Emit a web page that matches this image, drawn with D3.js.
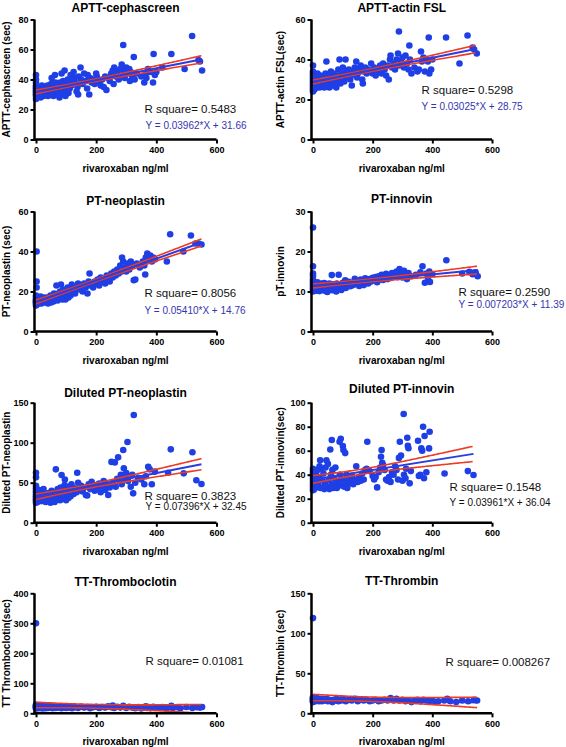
<!DOCTYPE html>
<html><head><meta charset="utf-8">
<script src="https://cdn.jsdelivr.net/npm/d3@7"></script>
<style>body{margin:0;background:#fff}svg{display:block}</style>
</head><body>
<script>
// ---------- DATA ----------
const titles = ["APTT-cephascreen","APTT-actin FSL","PT-neoplastin","PT-innovin","Diluted PT-neoplastin","Diluted PT-innovin","TT-Thromboclotin","TT-Thrombin"];
const yTitles = ["APTT-cephascreen (sec)","APTT-actin FSL(sec)","PT-neoplastin (sec)","pT-innovin","Diluted PT-neoplastin","Diluted PT-innovin(sec)","TT Thromboclotin(sec)","TT-Thrombin (sec)"];
const xTitle = "rivaroxaban ng/ml";
const xTicks = [0,200,400,600];
const yTicks = [[0,20,40,60,80],[0,20,40,60],[0,20,40,60],[0,10,20,30],[0,50,100,150],[0,20,40,60,80,100],[0,100,200,300,400],[0,50,100,150]];
const rSquare = ["0.5483","0.5298","0.8056","0.2590","0.3823","0.1548","0.01081","0.008267"];
const equations = ["Y = 0.03962*X + 31.66","Y = 0.03025*X + 28.75","Y = 0.05410*X + 14.76","Y = 0.007203*X + 11.39","Y = 0.07396*X + 32.45","Y = 0.03961*X + 36.04",null,null];
const slopes = [0.03962,0.03025,0.05410,0.007203,0.07396,0.03961,null,null];
const intercepts = [31.66,28.75,14.76,11.39,32.45,36.04,null,null];

const pts1 = [[0,27],[0,29],[0,30],[0,31],[0,32],[0,33],[0,34],[0,35],[0,36],[0,38],[0,40],[0,43],[2,28],[3,31],[5,30],[5,33],[8,29],[8,35],[10,32],[12,30],[12,34],[15,31],[15,28],[18,33],[20,30],[20,36],[25,32],[25,29],[28,34],[30,31],[32,30],[35,33],[38,36],[40,29],[42,32],[45,34],[48,31],[50,30],[50,37],[52,41],[55,33],[58,29],[60,35],[62,31],[63,43],[65,38],[68,30],[70,34],[72,32],[75,36],[78,28],[80,38],[82,33],[85,35],[85,44],[88,30],[90,39],[92,36],[95,46],[96,33],[98,29],[100,38],[102,35],[105,40],[108,31],[110,37],[112,34],[115,43],[118,36],[120,39],[125,45],[128,41],[130,38],[135,32],[138,35],[140,30],[142,42],[148,48],[150,40],[155,37],[160,44],[165,39],[170,34],[172,43],[177,30],[180,41],[185,38],[190,40],[195,37],[200,44],[202,42],[210,38],[215,36],[220,40],[225,35],[230,42],[234,33],[240,41],[245,39],[250,44],[255,46],[258,37],[260,48],[265,42],[270,45],[275,40],[280,47],[285,50],[288,43],[290,63],[292,46],[295,41],[300,48],[305,44],[310,47],[312,39],[315,45],[320,42],[325,55],[328,40],[335,44],[350,42],[360,38],[365,44],[367,41],[372,47],[380,45],[389,38],[391,57],[395,43],[400,45],[420,48],[450,57],[494,47],[519,69],[540,53],[545,52],[552,46]];
const pts2 = [[0,24],[0,25],[0,26],[0,27],[0,28],[0,29],[0,30],[0,31],[0,32],[0,33],[0,34],[0,37],[2,26],[3,28],[5,30],[5,25],[8,27],[8,32],[10,29],[12,26],[12,31],[15,28],[15,33],[18,27],[20,30],[22,26],[25,29],[25,32],[28,27],[30,31],[32,28],[35,30],[38,26],[40,29],[42,33],[45,39],[45,27],[48,30],[50,28],[52,32],[55,26],[58,30],[60,34],[62,29],[65,27],[68,31],[70,33],[72,28],[75,30],[78,26],[80,32],[82,29],[85,35],[88,31],[89,40],[92,28],[95,33],[98,30],[100,36],[102,32],[105,29],[109,40],[110,34],[112,31],[115,33],[120,35],[125,30],[128,32],[130,27],[135,34],[140,36],[145,39],[148,31],[150,33],[155,35],[160,37],[165,30],[167,28],[170,34],[175,36],[180,33],[185,35],[190,34],[195,38],[200,33],[205,36],[210,32],[215,35],[220,34],[225,37],[230,33],[235,38],[240,35],[245,32],[250,37],[254,30],[258,40],[260,42],[265,36],[270,38],[275,35],[280,40],[285,43],[288,54],[290,37],[295,39],[300,41],[305,36],[310,42],[315,38],[320,35],[323,47],[325,40],[330,33],[340,36],[350,34],[355,35],[362,44],[365,39],[370,41],[375,34],[380,40],[385,39],[388,51],[390,33],[396,35],[400,40],[446,51],[491,38],[518,52],[535,46],[540,45],[549,43]];
const pts3 = [[0,13],[0,14],[0,15],[0,16],[0,17],[0,18],[0,14.5],[0,15.5],[2,40],[2,25],[2,22],[3,13.5],[5,16],[5,14],[8,15],[8,17],[10,14],[12,16],[15,15],[15,17.5],[18,14],[20,16],[22,15],[25,17],[28,14.5],[30,16],[32,15],[35,17],[38,15],[40,14],[42,16.5],[45,15],[48,18],[50,14.5],[52,16],[55,17],[58,15],[60,19],[62,16],[65,18],[68,23],[70,17],[72,15.5],[75,19],[78,17],[80,20],[83,23.5],[85,18],[88,16],[90,21],[92,17],[95,19],[98,16],[100,20],[102,18],[105,22],[108,17],[110,19],[112,21],[115,18],[119,23.5],[120,20],[125,21],[130,19],[135,22],[140,24],[145,21],[150,23],[155,20],[160,24],[165,22],[171,19],[175,25],[178,29],[180,23],[185,24],[190,22],[195,25],[200,24],[205,26],[210,23],[215,27],[220,25],[225,26],[230,24],[235,28],[240,27],[245,25],[250,29],[255,27],[260,30],[265,28],[270,31],[275,29],[280,33],[285,30],[286,37],[290,35],[295,32],[300,30],[305,34],[310,31],[315,35],[320,33],[325,25.6],[330,26],[335,34],[345,32],[355,35],[360,33],[363,28.5],[365,37],[370,39],[375,36],[380,38],[385,35],[390,37],[395,36],[435,35],[446,48.6],[490,40],[515,48],[530,44],[540,44],[550,43.5]];
const pts4 = [[0,26],[0,16.3],[0,14.5],[0,13.9],[0,10],[0,10.5],[0,11],[0,11.5],[0,12],[0,12.5],[0,13],[3,10.3],[5,11.2],[5,12.2],[8,10.6],[10,11.8],[12,10.2],[15,11],[15,12.3],[18,10.5],[20,11.5],[22,10.1],[25,11],[28,12],[30,10.4],[32,11.3],[35,10.8],[38,12.1],[40,10.2],[42,11.6],[45,10.9],[48,9.9],[50,11.4],[52,10.5],[55,12],[58,10.7],[60,11.2],[63,14.1],[65,10.3],[68,11.8],[70,10.6],[75,11.3],[78,10],[80,12],[86,14.2],[88,10.8],[90,11.5],[95,10.4],[100,12.2],[105,11],[108,12.8],[110,10.9],[115,11.7],[120,12.4],[125,11.3],[130,12.1],[135,11.6],[140,13.2],[145,12],[150,12.6],[155,11.4],[160,13],[165,12.2],[170,11.6],[175,13.3],[180,12.7],[185,12],[190,13.1],[195,12.5],[200,13.4],[205,12.8],[210,13.6],[215,12.3],[220,13.8],[225,13],[230,14.2],[235,12.9],[240,13.6],[245,14.4],[250,13.1],[255,14],[260,13.4],[265,14.6],[270,13.8],[275,14.3],[280,15],[285,13.6],[290,15.6],[295,14.2],[300,13.5],[305,15.2],[310,14],[315,13.1],[320,14.6],[330,13.8],[345,14.2],[360,14.8],[367,16.3],[375,12.2],[380,14.5],[385,13.5],[390,15],[392,12.4],[400,14.3],[447,17.8],[500,14.5],[524,14.9],[535,14.3],[545,14.8],[552,13.8]];
const pts5 = [[0,25],[0,27],[0,29],[0,31],[0,33],[0,35],[0,38],[0,40],[0,43],[0,46],[0,56.7],[0,62.5],[2,28],[3,32],[5,36],[5,26],[8,30],[8,41],[10,34],[12,28],[15,32],[15,38],[18,27],[20,35],[22,30],[25,33],[25,42],[28,29],[30,36],[32,26],[35,31],[38,34],[40,28],[42,37],[45,30],[48,25],[50,33],[52,40],[55,28],[58,35],[60,31],[62,26],[66,66.7],[65,38],[68,29],[70,34],[72,42],[75,30],[78,36],[80,28],[82,44],[85,59.6],[88,33],[90,39],[92,30],[96,54],[95,47],[98,35],[100,28],[102,41],[105,36],[108,31],[110,45],[112,38],[115,33],[118,48],[120,40],[125,36],[130,43],[137,62.5],[135,38],[140,50],[145,41],[150,46],[155,39],[160,44],[166,34.6],[170,34],[175,48],[180,42],[185,51],[190,45],[195,40],[200,47],[205,43],[210,49],[215,38],[220,46],[225,52],[230,41],[235,48],[240,34.6],[245,44],[251,76],[255,50],[262,75.4],[265,45],[270,55],[273,81.7],[278,52],[282,60],[285,48],[290,90.8],[292,68],[296,55],[300,62],[304,100.8],[306,52],[310,58],[315,45],[320,60],[323,36.7],[325,134.6],[330,50],[340,56],[350,54],[360,48],[365,58],[373,70],[378,66.7],[385,48],[395,63.8],[439,62.5],[448,91.7],[491,61.7],[520,88],[533,53],[550,48.3]];
const pts6 = [[0,27],[0,29],[0,31],[0,33],[0,35],[0,37],[0,39],[0,41],[0,43],[0,45],[2,30],[3,36],[5,28],[5,40],[8,33],[8,38],[10,42],[12,30],[15,35],[15,44],[18,32],[20,38],[22,47],[24,52],[25,29],[28,45],[30,36],[32,29],[35,41],[38,28],[40,33],[42,46],[45,52],[48,30],[50,49],[52,36],[55,28],[58,61],[60,40],[63,68.9],[62,32],[65,44],[68,29],[70,37],[72,31],[75,46],[78,35],[80,29],[85,33],[89,67.5],[90,40],[93,70],[95,31],[98,36],[100,63.9],[102,60.5],[105,30],[108,58],[110,34],[112,40],[115,29],[118,35],[120,37],[125,33],[130,39],[135,32],[140,36],[145,47],[150,34],[155,38],[160,35],[165,41],[170,36],[175,44],[180,45],[182,67.5],[190,43],[200,39],[205,36],[210,38],[215,29.4],[220,42],[225,46],[228,55],[230,60.5],[232,50],[235,48],[240,44],[245,36],[250,35],[255,38],[260,34],[265,42],[270,40],[275,47],[280,44],[285,36],[288,54],[291,67.5],[295,56],[300,35],[304,90.6],[305,40],[310,37],[312,45],[316,70.8],[318,64],[320,62],[324,32.8],[328,43],[352,68.3],[355,39],[360,40],[363,61.9],[366,60],[369,80],[372,37],[374,72.2],[380,42],[389,61.9],[391,75.8],[441,41],[519,43],[538,39.7]];
const pts7 = [[0,300],[0,16],[0,18],[0,20],[0,22],[0,24],[0,26],[0,28],[3,19],[5,23],[8,17],[10,21],[12,25],[15,18],[18,22],[20,20],[22,16],[25,24],[28,19],[30,21],[32,17],[35,23],[38,20],[40,18],[42,22],[45,25],[48,19],[50,21],[55,17],[58,23],[60,20],[65,18],[70,22],[75,19],[80,21],[85,17],[90,23],[95,20],[100,18],[105,22],[110,19],[115,21],[120,17],[125,23],[130,20],[140,18],[150,22],[160,19],[170,21],[180,17],[190,20],[200,22],[210,18],[220,21],[230,19],[240,23],[250,20],[255,26],[260,18],[270,22],[280,19],[290,25],[295,21],[300,18],[310,22],[320,19],[330,17],[340,21],[350,16],[360,20],[365,23],[370,18],[375,21],[380,17],[390,22],[395,19],[400,20],[410,18],[420,21],[430,17],[440,19],[450,25],[455,18],[470,20],[480,17],[500,21],[520,18],[535,20],[545,19],[552,21]];
const pts8 = [[0,119],[0,14],[0,15],[0,16],[0,17],[0,18],[0,19],[0,20],[3,16],[5,18],[8,15],[10,17],[12,19],[15,16],[18,18],[20,15],[22,17],[25,16],[28,18],[30,15],[35,17],[40,16],[45,18],[50,15],[55,17],[60,16],[65,14],[70,17],[75,16],[80,18],[85,15],[90,17],[95,16],[100,18],[110,15],[120,17],[130,16],[140,18],[150,15],[160,17],[170,16],[180,17],[190,15],[200,16],[210,17],[220,15],[230,16],[240,17],[250,16],[260,19],[265,17],[270,16],[280,18],[290,16],[300,17],[310,15],[320,16],[330,14],[340,16],[350,17],[360,15],[370,17],[380,16],[390,15],[400,16],[410,14],[420,15],[440,16],[450,18],[460,15],[480,14],[500,16],[520,15],[540,17],[550,16]];
const allPoints = [pts1,pts2,pts3,pts4,pts5,pts6,pts7,pts8];

// ---------- LAYOUT / STYLE ----------
const dotColor = "#1f3fe6", fitColor = "#2a3ee0", ciColor = "#ee3a22";
const eqColors = ["#3535b0","#3535b0","#3535b0","#3535b0","#111","#111",null,null];
const rowTop = [19.5, 211.5, 402.7, 593.3];
const plotH = 120;
const titleDy = [12,12,10.7,12.7,9.7,13.7,11.3,12.6];
const rPos = [[110,89.8],[110,70.5],[110,81.6],[147,80],[110,93.3],[138,84.6],[111,67.4],[134,68.4]];
const eqPos = [[111,105.5],[110,86.5],[110,99.3],[147,92.6],[111,104],[138,99.6],null,null];
const FONT = "'Liberation Sans', Arial, Helvetica, sans-serif";

const svg = d3.select("body").append("svg").attr("width",566).attr("height",747)
  .style("font-family",FONT);
svg.append("rect").attr("width",566).attr("height",747).attr("fill","#fff");

allPoints.forEach((pts,i)=>{
  const col = i%2, row = Math.floor(i/2);
  const axisX = col ? 311.5 : 34.5;
  const x0 = col ? 313 : 36, x1 = col ? 492 : 216.5;
  const top = rowTop[row], bottom = top + plotH;
  const yMax = yTicks[i][yTicks[i].length-1];
  const x = d3.scaleLinear().domain([0,600]).range([x0,x1]);
  const y = d3.scaleLinear().domain([0,yMax]).range([bottom,top]);
  const g = svg.append("g");

  // fit
  const n = pts.length;
  const mx = d3.mean(pts,d=>d[0]), my = d3.mean(pts,d=>d[1]);
  const sxx = d3.sum(pts,d=>(d[0]-mx)**2);
  let b = slopes[i], a = intercepts[i];
  if (b===null){ b = d3.sum(pts,d=>(d[0]-mx)*(d[1]-my))/sxx; a = my - b*mx; }
  const s = Math.sqrt(d3.sum(pts,d=>(d[1]-(a+b*d[0]))**2)/(n-2));
  const t = 1.976;
  const xmax = d3.max(pts,d=>d[0]);
  const xs = d3.range(0, xmax+0.001, 5);
  const half = xv => t*s*Math.sqrt(1/n + (xv-mx)**2/sxx);

  // points
  g.selectAll("circle").data(pts).join("circle")
    .attr("cx",d=>x(d[0])).attr("cy",d=>y(d[1])).attr("r",3.3).attr("fill",dotColor);

  const line = d3.line().x(d=>x(d[0])).y(d=>y(d[1]));
  g.append("path").attr("d",line(xs.map(v=>[v,a+b*v+half(v)]))).attr("fill","none").attr("stroke",ciColor).attr("stroke-width",1.6);
  g.append("path").attr("d",line(xs.map(v=>[v,a+b*v-half(v)]))).attr("fill","none").attr("stroke",ciColor).attr("stroke-width",1.6);
  g.append("path").attr("d",line([[0,a],[xmax,a+b*xmax]])).attr("fill","none").attr("stroke",fitColor).attr("stroke-width",2);

  // axes
  const ya = g.append("g").attr("transform",`translate(${axisX},0)`)
    .call(d3.axisLeft(y).tickValues(yTicks[i]).tickSize(4).tickPadding(2).tickSizeOuter(0));
  const xa = g.append("g").attr("transform",`translate(0,${bottom})`)
    .call(d3.axisBottom(x).tickValues(xTicks).tickSize(4).tickPadding(3).tickSizeOuter(0));
  [ya,xa].forEach(ax=>{
    ax.select(".domain").remove();
    ax.selectAll(".tick line").attr("stroke","#000").attr("stroke-width",2);
    ax.selectAll(".tick text").attr("fill","#000").style("font-size","9px").style("font-weight","bold").style("font-family",FONT);
  });
  g.append("line").attr("x1",axisX).attr("x2",axisX).attr("y1",bottom+1.25).attr("y2",top).attr("stroke","#000").attr("stroke-width",2.5);
  g.append("line").attr("x1",axisX-1.25).attr("x2",x(600)).attr("y1",bottom).attr("y2",bottom).attr("stroke","#000").attr("stroke-width",2.5);

  // titles
  g.append("text").attr("x",(axisX+x(600))/2).attr("y",top-titleDy[i]).attr("text-anchor","middle").attr("dominant-baseline","central")
    .style("font-size","12px").style("font-weight","bold").text(titles[i]);
  g.append("text").attr("x",(axisX+x(600))/2).attr("y",bottom+28.5).attr("text-anchor","middle").attr("dominant-baseline","central")
    .style("font-size","10px").style("font-weight","bold").text(xTitle);
  const ytx = col ? 280 : 6;
  g.append("text").attr("transform",`translate(${ytx},${(top+bottom)/2}) rotate(-90)`).attr("text-anchor","middle").attr("dominant-baseline","central")
    .style("font-size","10px").style("font-weight","bold").text(yTitles[i]);

  // stats text
  g.append("text").attr("x",axisX+rPos[i][0]).attr("y",top+rPos[i][1]).attr("dominant-baseline","central")
    .style("font-size","11.5px").attr("fill","#111").text("R square= "+rSquare[i]);
  if (equations[i]) {
    g.append("text").attr("x",axisX+eqPos[i][0]).attr("y",top+eqPos[i][1]).attr("dominant-baseline","central")
      .style("font-size","10px").attr("fill",eqColors[i]).text(equations[i]);
  }
});
</script>
</body></html>
